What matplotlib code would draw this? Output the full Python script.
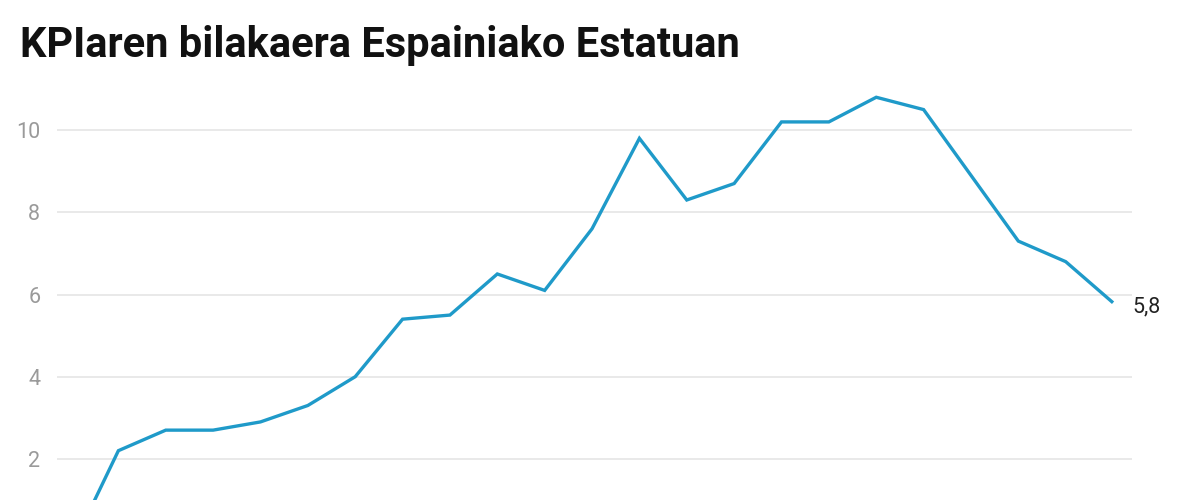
import matplotlib
matplotlib.use("Agg")
import matplotlib.pyplot as plt

# Data
periods = ["P01", "P02", "P03", "P04", "P05", "P06", "P07", "P08", "P09", "P10",
           "P11", "P12", "P13", "P14", "P15", "P16", "P17", "P18", "P19", "P20",
           "P21", "P22", "P23"]
kpi = [-0.2, 2.2, 2.7, 2.7, 2.9, 3.3, 4.0, 5.4, 5.5, 6.5, 6.1, 7.6, 9.8, 8.3,
       8.7, 10.2, 10.2, 10.8, 10.5, 8.9, 7.3, 6.8, 5.8]
y_ticks = [2, 4, 6, 8, 10]
title = "KPIaren bilakaera Espainiako Estatuan"
last_label = "5,8"

W, H = 1200, 500
fig = plt.figure(figsize=(W / 100, H / 100), dpi=100)

# axes spans pixel x 57..1132, pixel y 80..560 (extends below the figure)
left_px, right_px, top_px, bottom_px = 57, 1132, 80, 560
ax = fig.add_axes([left_px / W, (H - bottom_px) / H,
                   (right_px - left_px) / W, (bottom_px - top_px) / H])

x = list(range(len(kpi)))
ax.plot(x, kpi, color="#1f9ac9", lw=2.4, solid_joinstyle="miter",
        solid_capstyle="butt", zorder=3, clip_on=False)

ax.set_xlim(-0.296, len(kpi) - 1 + 0.40)
ax.set_ylim(-0.46, 11.22)
ax.set_yticks(y_ticks)
ax.set_yticklabels([str(v) for v in y_ticks], fontsize=15.5, color="#9a9a9a",
                   family=["Roboto", "DejaVu Sans"])
ax.tick_params(axis="y", length=0, pad=12)
ax.set_xticks([])
ax.grid(axis="y", color="#e3e3e3", lw=1.1)
ax.set_axisbelow(True)
for s in ax.spines.values():
    s.set_visible(False)

ax.annotate(last_label, (x[-1], kpi[-1]), xytext=(14, -3),
            textcoords="offset points", ha="left", va="center",
            fontsize=15.5, color="#222222", family=["Roboto", "DejaVu Sans"])

fig.text(20 / W, 1 - 57 / H, title, fontsize=30, fontweight="bold",
         family=["Roboto", "DejaVu Sans"], color="#111111",
         ha="left", va="baseline")

fig.savefig("out.png", dpi=100)
